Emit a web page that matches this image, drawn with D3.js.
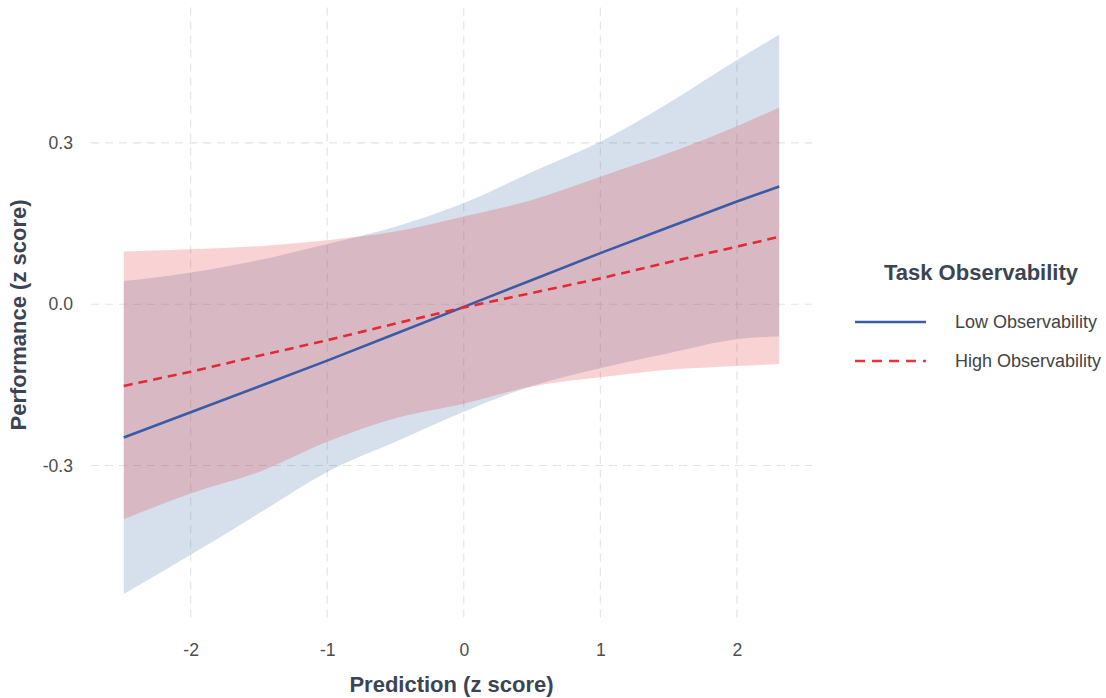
<!DOCTYPE html>
<html>
<head>
<meta charset="utf-8">
<script src="https://cdn.jsdelivr.net/npm/d3@7"></script>
<style>
  body { margin: 0; background: #fff; }
  text { font-family: "Liberation Sans", Arial, sans-serif; }
</style>
</head>
<body>
<div class="chart"></div>
<script>
// values
const xs = [-2.49, -2, -1.5, -1, -0.5, 0, 0.5, 1, 1.5, 2, 2.31];
const lowFit = [-0.248, -0.201, -0.153, -0.105, -0.055, -0.005, 0.045, 0.095, 0.143, 0.191, 0.219];
const lowUpper = [0.043, 0.059, 0.082, 0.112, 0.144, 0.188, 0.246, 0.302, 0.374, 0.454, 0.501];
const lowLower = [-0.539, -0.466, -0.389, -0.312, -0.256, -0.200, -0.152, -0.119, -0.091, -0.065, -0.060];
const highFit = [-0.152, -0.1255, -0.096, -0.067, -0.036, -0.006, 0.021, 0.048, 0.078, 0.107, 0.1255];
const highUpper = [0.098, 0.102, 0.108, 0.119, 0.135, 0.163, 0.194, 0.237, 0.281, 0.331, 0.366];
const highLower = [-0.400, -0.352, -0.312, -0.256, -0.212, -0.185, -0.153, -0.136, -0.122, -0.115, -0.111];
const xTicks = [-2, -1, 0, 1, 2];
const yTicks = [-0.3, 0, 0.3];
const groups = ['Low Observability', 'High Observability'];

const width = 1106, height = 698;

const x = d3.scaleLinear().domain([-2.73, 2.55]).range([91, 812]);
const y = d3.scaleLinear().domain([-0.592, 0.552]).range([622.5, 7.4]);

const series = [
  { name: groups[0], fit: lowFit, up: lowUpper, lo: lowLower, line: '#3a5ba6', fill: '#325fa0', dash: null },
  { name: groups[1], fit: highFit, up: highUpper, lo: highLower, line: '#e02b35', fill: '#e12323', dash: '9,6' }
];

const svg = d3.select('.chart')
  .append('svg')
  .attr('width', width)
  .attr('height', height);

// grid
const grid = svg.append('g');
grid.selectAll('.gx')
  .data(xTicks)
  .enter()
  .append('line')
  .attr('x1', d => x(d)).attr('x2', d => x(d))
  .attr('y1', y.range()[1]).attr('y2', y.range()[0])
  .attr('stroke', '#e3e3e3')
  .attr('stroke-width', 1.1)
  .attr('stroke-dasharray', '8,6');
grid.selectAll('.gy')
  .data(yTicks)
  .enter()
  .append('line')
  .attr('x1', x.range()[0]).attr('x2', x.range()[1])
  .attr('y1', d => y(d)).attr('y2', d => y(d))
  .attr('stroke', '#e3e3e3')
  .attr('stroke-width', 1.1)
  .attr('stroke-dasharray', '8,6');

// ribbons
series.forEach(s => {
  const idx = d3.range(xs.length);
  svg.append('path')
    .datum(idx)
    .attr('fill', s.fill)
    .attr('fill-opacity', 0.2)
    .attr('d', d3.area()
      .curve(d3.curveMonotoneX)
      .x(i => x(xs[i]))
      .y0(i => y(s.lo[i]))
      .y1(i => y(s.up[i])));
});

// fitted lines
series.forEach(s => {
  const idx = d3.range(xs.length);
  svg.append('path')
    .datum(idx)
    .attr('fill', 'none')
    .attr('stroke', s.line)
    .attr('stroke-width', 2.6)
    .attr('stroke-dasharray', s.dash)
    .attr('d', d3.line()
      .x(i => x(xs[i]))
      .y(i => y(s.fit[i])));
});

// axes (labels only, like theme_minimal)
const hyphen = f => d => f(d).replace('\u2212', '-');
const xAxis = svg.append('g')
  .attr('transform', `translate(0, ${y.range()[0] + 5})`)
  .call(d3.axisBottom(x).tickValues(xTicks).tickSize(0).tickPadding(16).tickFormat(hyphen(d3.format('d'))));
const yAxis = svg.append('g')
  .attr('transform', `translate(${x.range()[0] - 18}, 0)`)
  .call(d3.axisLeft(y).tickValues(yTicks).tickSize(0).tickPadding(0).tickFormat(hyphen(d3.format('.1f'))));

[xAxis, yAxis].forEach(a => {
  a.select('.domain').remove();
  a.selectAll('text')
    .attr('fill', '#4d4d4d')
    .style('font-size', '17.6px')
    .style('font-family', '"Liberation Sans", Arial, sans-serif');
});

svg.append('text')
  .attr('x', (x.range()[0] + x.range()[1]) / 2)
  .attr('y', 692)
  .attr('text-anchor', 'middle')
  .attr('fill', '#3b4454')
  .style('font-size', '22px')
  .style('font-weight', 'bold')
  .text('Prediction (z score)');

svg.append('text')
  .attr('transform', `translate(26, ${(y.range()[0] + y.range()[1]) / 2}) rotate(-90)`)
  .attr('text-anchor', 'middle')
  .attr('fill', '#3b4454')
  .style('font-size', '22px')
  .style('font-weight', 'bold')
  .text('Performance (z score)');

// legend
const legend = svg.append('g');
legend.append('text')
  .attr('x', 981)
  .attr('y', 280)
  .attr('text-anchor', 'middle')
  .attr('fill', '#3b4454')
  .style('font-size', '22px')
  .style('font-weight', 'bold')
  .text('Task Observability');

const items = legend.selectAll('.item')
  .data(series)
  .enter()
  .append('g')
  .attr('transform', (d, i) => `translate(0, ${322 + i * 39})`);

items.append('line')
  .attr('x1', 855).attr('x2', 926)
  .attr('y1', 0).attr('y2', 0)
  .attr('stroke', d => d.name === groups[0] ? '#3b5ca8' : '#ec3338')
  .attr('stroke-width', 2.6)
  .attr('stroke-dasharray', d => d.dash ? '10,7' : null);

items.append('text')
  .attr('x', 955)
  .attr('y', 6)
  .attr('fill', '#444')
  .style('font-size', '18px')
  .text(d => d.name);
</script>
</body>
</html>
